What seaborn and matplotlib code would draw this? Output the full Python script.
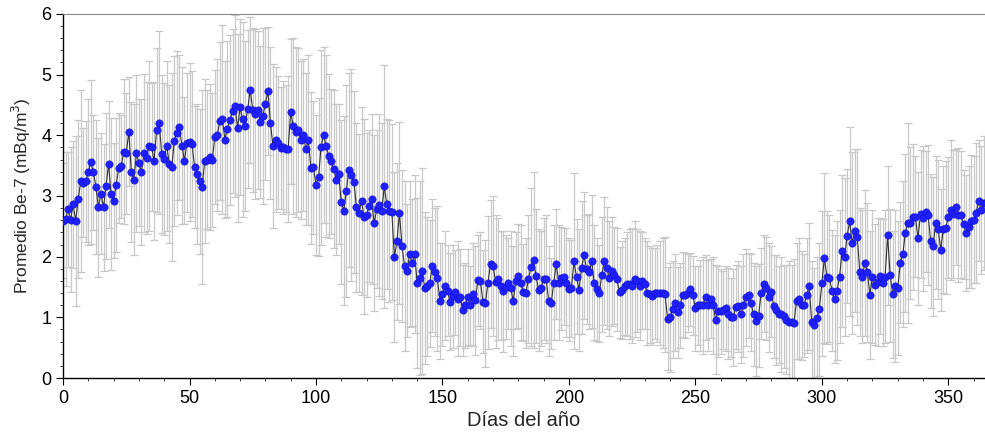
import numpy as np
import pandas as pd
import matplotlib
matplotlib.use("Agg")
import matplotlib.pyplot as plt
from matplotlib.ticker import MultipleLocator
import seaborn as sns

# Daily mean Be-7 concentration (mBq/m3), days 0..365
be7_mean = [
    2.59, 2.62, 2.78, 2.61, 2.86, 2.59, 2.95, 3.24, 3.22, 3.24,
    3.40, 3.56, 3.39, 3.15, 2.81, 3.04, 2.81, 3.16, 3.52, 3.03,
    2.92, 3.18, 3.46, 3.49, 3.73, 3.70, 4.06, 3.39, 3.27, 3.70,
    3.55, 3.39, 3.71, 3.63, 3.83, 3.81, 3.58, 4.09, 4.21, 3.69,
    3.61, 3.83, 3.53, 3.48, 3.91, 4.04, 4.13, 3.83, 3.58, 3.88,
    3.89, 3.86, 3.48, 3.36, 3.24, 3.15, 3.57, 3.60, 3.64, 3.59,
    3.97, 4.00, 4.24, 4.26, 3.93, 4.11, 4.25, 4.40, 4.48, 4.12,
    4.46, 4.26, 4.16, 4.43, 4.75, 4.42, 4.35, 4.42, 4.22, 4.32,
    4.52, 4.73, 4.20, 3.82, 3.93, 3.88, 3.79, 3.80, 3.78, 3.77,
    4.39, 4.15, 4.05, 4.08, 3.92, 4.01, 3.77, 3.92, 3.46, 3.47,
    3.18, 3.31, 3.80, 4.01, 3.82, 3.66, 3.57, 3.45, 3.27, 3.36,
    2.90, 2.76, 3.08, 3.43, 3.35, 3.23, 2.81, 2.72, 2.92, 2.66,
    2.69, 2.83, 2.95, 2.55, 2.78, 2.85, 2.75, 3.16, 2.86, 2.75,
    2.73, 1.99, 2.25, 2.72, 2.18, 1.85, 1.77, 2.04, 1.90, 2.04,
    1.57, 1.65, 1.76, 1.48, 1.51, 1.56, 1.85, 1.75, 1.64, 1.27,
    1.38, 1.52, 1.44, 1.26, 1.35, 1.41, 1.31, 1.33, 1.12, 1.20,
    1.33, 1.20, 1.38, 1.28, 1.61, 1.60, 1.26, 1.23, 1.57, 1.88,
    1.85, 1.59, 1.63, 1.52, 1.43, 1.50, 1.56, 1.48, 1.27, 1.60,
    1.68, 1.57, 1.41, 1.40, 1.63, 1.83, 1.94, 1.68, 1.45, 1.48,
    1.63, 1.63, 1.27, 1.23, 1.57, 1.88, 1.57, 1.64, 1.67, 1.57,
    1.46, 1.48, 1.92, 1.67, 1.45, 1.82, 2.02, 1.79, 1.75, 1.92,
    1.57, 1.46, 1.40, 1.70, 1.93, 1.81, 1.64, 1.76, 1.69, 1.63,
    1.41, 1.45, 1.51, 1.55, 1.55, 1.52, 1.63, 1.60, 1.52, 1.60,
    1.55, 1.40, 1.38, 1.35, 1.40, 1.40, 1.40, 1.40, 1.38, 0.98,
    1.00, 1.13, 1.24, 1.08, 1.20, 1.37, 1.36, 1.40, 1.46, 1.36,
    1.15, 1.20, 1.20, 1.20, 1.33, 1.20, 1.31, 1.20, 0.96, 1.10,
    1.10, 1.12, 1.15, 1.06, 1.00, 1.00, 1.17, 1.18, 1.05, 1.20,
    1.33, 1.36, 1.24, 1.05, 0.94, 1.03, 1.40, 1.55, 1.48, 1.33,
    1.42, 1.18, 1.12, 1.05, 1.05, 1.02, 0.96, 0.92, 0.92, 0.91,
    1.27, 1.31, 1.20, 1.20, 1.36, 1.51, 0.92, 0.87, 0.99, 1.13,
    1.56, 1.98, 1.66, 1.64, 1.44, 1.30, 1.44, 1.67, 2.09, 1.99,
    2.34, 2.58, 2.22, 2.43, 2.33, 1.75, 1.67, 1.90, 1.74, 1.37,
    1.67, 1.54, 1.58, 1.68, 1.57, 1.67, 2.35, 1.69, 1.38, 1.52,
    1.48, 1.90, 2.04, 2.39, 2.56, 2.56, 2.65, 2.66, 2.30, 2.70,
    2.63, 2.74, 2.69, 2.26, 2.17, 2.56, 2.45, 2.11, 2.45, 2.48,
    2.65, 2.77, 2.70, 2.82, 2.69, 2.69, 2.53, 2.39, 2.49, 2.58,
    2.61, 2.72, 2.92, 2.77, 2.88, 2.88,
]

# Standard deviation of each daily mean (mBq/m3)
be7_sd = [
    0.95, 1.10, 0.95, 1.20, 1.05, 1.40, 1.30, 1.50, 0.90, 1.00,
    1.20, 1.35, 0.95, 1.10, 1.15, 1.00, 1.05, 1.20, 1.05, 1.25,
    0.95, 1.10, 0.90, 0.85, 1.20, 1.00, 0.90, 1.15, 1.25, 1.30,
    1.05, 1.20, 1.30, 1.25, 1.40, 1.05, 1.30, 1.35, 1.50, 1.30,
    1.25, 1.40, 1.30, 1.55, 1.40, 1.35, 1.20, 1.30, 1.05, 1.15,
    1.30, 1.20, 1.00, 1.15, 1.20, 1.60, 1.35, 1.15, 1.20, 1.10,
    1.10, 1.25, 1.30, 1.55, 1.30, 1.45, 1.40, 1.35, 1.50, 1.55,
    1.45, 1.60, 1.40, 1.30, 1.20, 1.35, 1.40, 1.30, 1.25, 1.45,
    1.25, 1.05, 1.25, 1.35, 1.20, 1.10, 1.00, 1.10, 1.05, 1.20,
    1.20, 1.45, 1.40, 1.35, 1.30, 1.25, 1.25, 1.40, 1.25, 1.10,
    1.15, 1.30, 1.60, 1.45, 1.50, 1.35, 1.20, 1.30, 1.25, 1.15,
    1.35, 1.55, 1.75, 1.60, 1.75, 1.50, 1.40, 1.30, 1.55, 1.60,
    1.35, 1.25, 1.40, 1.45, 1.30, 1.50, 1.45, 2.00, 1.40, 1.50,
    1.45, 1.40, 1.30, 1.50, 1.25, 1.40, 1.10, 1.20, 1.05, 1.30,
    1.40, 1.60, 1.70, 1.25, 1.15, 1.05, 1.10, 1.05, 1.20, 0.95,
    0.85, 0.90, 0.75, 0.80, 0.85, 0.70, 0.95, 0.80, 0.75, 0.70,
    0.80, 0.65, 0.85, 0.90, 0.75, 0.80, 0.85, 1.05, 1.10, 1.05,
    1.15, 1.10, 1.00, 0.90, 1.00, 0.85, 0.75, 0.95, 0.90, 0.80,
    0.85, 0.95, 0.80, 0.90, 1.05, 1.30, 1.45, 1.10, 1.00, 0.95,
    1.00, 1.05, 0.90, 0.75, 0.95, 0.90, 0.95, 0.85, 0.80, 0.90,
    0.85, 0.80, 1.45, 0.95, 1.00, 1.10, 1.05, 0.90, 0.95, 1.10,
    0.95, 0.85, 0.80, 0.95, 1.05, 1.00, 0.95, 0.90, 0.80, 0.85,
    0.75, 0.80, 0.80, 0.85, 0.90, 0.95, 0.95, 0.85, 0.90, 0.80,
    0.75, 0.85, 0.80, 0.80, 0.75, 0.80, 0.85, 0.90, 0.95, 0.85,
    0.90, 0.80, 0.80, 0.75, 0.70, 0.70, 0.70, 0.65, 0.60, 0.65,
    0.70, 0.65, 0.75, 0.80, 0.70, 0.75, 0.65, 0.80, 0.90, 0.75,
    0.70, 0.65, 0.70, 0.75, 0.65, 0.80, 0.70, 0.75, 0.80, 0.85,
    0.80, 0.70, 0.80, 0.85, 0.90, 0.85, 0.75, 0.80, 0.85, 0.90,
    0.75, 0.85, 0.90, 0.80, 0.95, 0.85, 0.90, 1.00, 0.95, 1.05,
    0.95, 1.00, 0.90, 0.85, 0.95, 1.05, 1.00, 0.95, 1.00, 1.10,
    1.20, 1.40, 1.10, 1.05, 1.00, 1.05, 1.15, 1.10, 1.25, 1.30,
    1.10, 1.55, 1.50, 1.35, 1.45, 1.05, 1.10, 1.20, 1.15, 1.05,
    1.10, 1.00, 1.05, 0.95, 1.05, 1.10, 1.15, 1.10, 1.05, 1.25,
    1.10, 1.00, 1.20, 1.30, 1.65, 1.25, 1.20, 1.00, 1.10, 1.05,
    1.20, 1.00, 1.15, 1.10, 1.15, 1.10, 1.15, 1.00, 1.05, 1.10,
    1.00, 1.15, 1.05, 0.95, 1.10, 1.05, 0.90, 0.95, 1.00, 1.10,
    1.05, 1.15, 1.00, 1.05, 1.10, 1.05,
]

days = list(range(len(be7_mean)))
df = pd.DataFrame({"dia": days, "media": be7_mean, "sd": be7_sd})

sns.set_style("ticks")
plt.rcParams["font.family"] = ["Liberation Sans", "DejaVu Sans"]

fig = plt.figure(figsize=(9.85, 4.34), dpi=100)
ax = fig.add_axes([0.064, 0.129, 0.936, 0.839])

ax.errorbar(df["dia"], df["media"], yerr=df["sd"], fmt="none",
            ecolor="#c8c8c8", elinewidth=0.9, capsize=2.6, capthick=0.9,
            zorder=1)
sns.lineplot(data=df, x="dia", y="media", color="#303030", linewidth=0.8,
             ax=ax, zorder=2)
sns.scatterplot(data=df, x="dia", y="media", color="#1f1fff", marker="o",
                edgecolor="#1010c0", linewidth=0.4, s=28, ax=ax, zorder=3)

ax.set_xlim(0, 364.5)
ax.set_ylim(0, 6)
ax.xaxis.set_major_locator(MultipleLocator(50))
ax.xaxis.set_minor_locator(MultipleLocator(10))
ax.yaxis.set_major_locator(MultipleLocator(1))
ax.yaxis.set_minor_locator(MultipleLocator(0.2))
ax.tick_params(axis="both", which="major", length=5, width=0.8,
               labelsize=13, direction="out", colors="black")
ax.tick_params(axis="both", which="minor", length=2.5, width=0.6,
               direction="out")

ax.set_xlabel("Días del año", fontsize=14.5, labelpad=3)
ax.set_ylabel("Promedio Be-7 (mBq/m$^3$)", fontsize=12.5, labelpad=6)

for side in ("left", "bottom"):
    ax.spines[side].set_color("black")
    ax.spines[side].set_linewidth(1.0)
ax.spines["top"].set_color("#888888")
ax.spines["top"].set_linewidth(0.8)
ax.spines["right"].set_visible(False)

fig.savefig("out.png", dpi=100)
